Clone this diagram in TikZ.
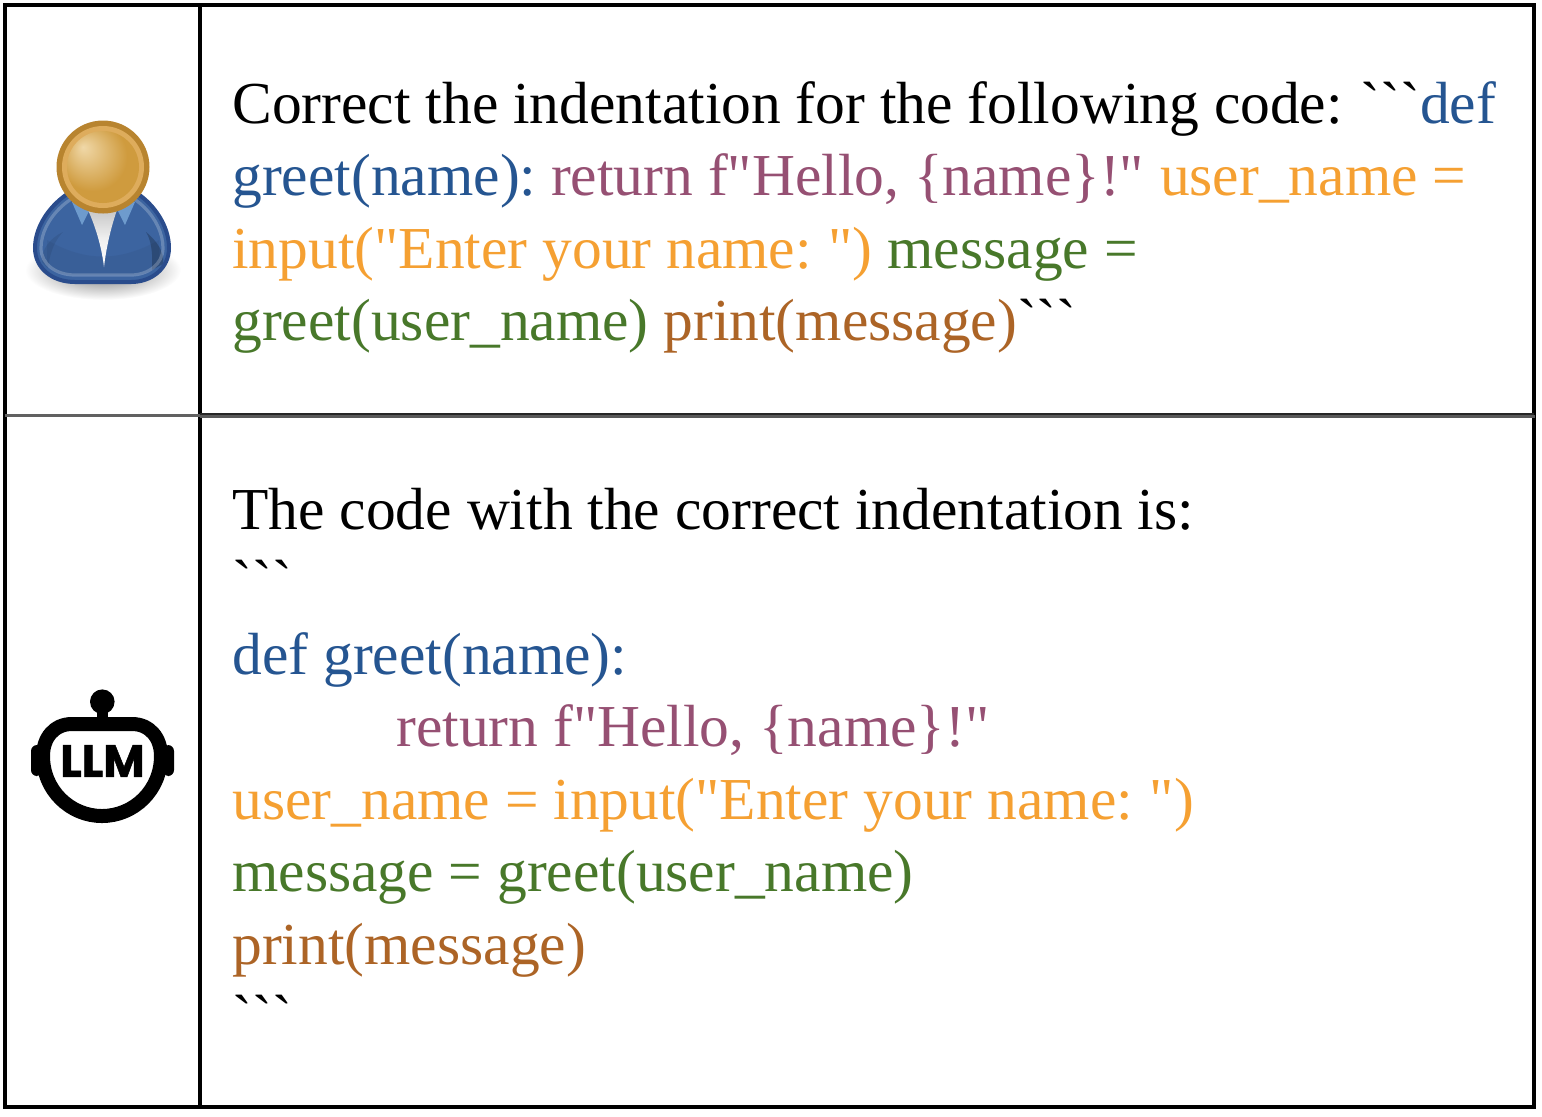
\documentclass[tikz,border=0pt]{standalone}
\usepackage{fontspec}
\usepackage{xcolor}
\newfontfamily\chatfont{Liberation Serif}
\newfontfamily\badgefont[BoldFeatures={FakeBold=1.2}]{Poppins}
\definecolor{defblue}{RGB}{37,85,145}
\definecolor{returnpurple}{RGB}{150,80,115}
\definecolor{inputorange}{RGB}{245,160,50}
\definecolor{greetgreen}{RGB}{72,120,42}
\definecolor{printbrown}{RGB}{172,100,38}
\definecolor{headdark}{RGB}{184,132,47}
\definecolor{headring}{RGB}{222,172,92}
\definecolor{headmid}{RGB}{207,155,62}
\definecolor{headlight}{RGB}{240,216,168}
\definecolor{bodydark}{RGB}{42,76,140}
\definecolor{bodyfill}{RGB}{60,100,160}
\definecolor{bodylow}{RGB}{54,88,142}
\definecolor{collarblue}{RGB}{110,155,205}
\pgfdeclareradialshading{headglow}{\pgfpoint{-14bp}{14bp}}{color(0bp)=(headlight); color(24bp)=(headmid); color(50bp)=(headmid)}
\tikzset{
    chatline/.style={anchor=base west, inner sep=0pt, font=\chatfont\fontsize{29.75}{36}\selectfont},
    gridline/.style={line width=1.6pt, black},
}

\begin{document}
\begin{tikzpicture}[x=0.5pt, y=-0.5pt]
    \useasboundingbox (0,0) rectangle (1542,1116);
    % Table
    \draw[gridline] (5,5) rectangle (1534,1107);
    \draw[gridline] (200,5) -- (200,1107);
    \draw[line width=1.65pt, black!62] (5,415.7) -- (200,415.7);
    \draw[line width=1.75pt, black!65] (200,416.5) -- (1535,416.5);
    \draw[line width=1pt, black!85] (200,414) -- (1534,414);

    % Prompt
    \node[chatline] (prompt1) at (232,123) {Correct the indentation for the following code: \kern-1pt```\textcolor{defblue}{def}};
    \node[chatline] (prompt2) at (232,195.5) {\textcolor{defblue}{greet(name):} \kern-2.5pt\textcolor{returnpurple}{return f"Hello, \{name\}!"} \kern0.5pt\textcolor{inputorange}{user\_name =}};
    \node[chatline] (prompt3) at (232,268) {\textcolor{inputorange}{input("Enter your name: \kern-1.5pt")} \textcolor{greetgreen}{message =}};
    \node[chatline] (prompt4) at (232,340.5) {\textcolor{greetgreen}{greet(user\_name)} \textcolor{printbrown}{print(message)}```};

    % Reply
    \node[chatline] (reply1) at (232,529) {The code with the correct indentation is:};
    \node[chatline] (reply2) at (232,601.5) {```};
    \node[chatline, defblue] (reply3) at (232,674) {def greet(name):};
    \node[chatline, returnpurple] (reply4) at (396,746.5) {return f"Hello, \{name\}!"};
    \node[chatline, inputorange] (reply5) at (232,819) {user\_name = input("Enter your name: \kern-1.5pt")};
    \node[chatline, greetgreen] (reply6) at (232,891.5) {message = greet(user\_name)};
    \node[chatline, printbrown] (reply7) at (232,964) {print(message)};
    \node[chatline] (reply8) at (232,1036.5) {```};

    % User icon
    \shade[inner color=black!55, outer color=white] (103,270) ellipse (78 and 30);
    \fill[bodyfill] (103,182) .. controls (70,182) and (35,215) .. (35,248) .. controls (35,268) and (52,282) .. (75,282) -- (131,282) .. controls (152,282) and (169,268) .. (169,248) .. controls (169,215) and (136,182) .. (103,182) -- cycle;
    \fill[bodylow, opacity=0.4] (47,262) .. controls (50,272) and (62,275) .. (75,275) -- (131,275) .. controls (142,275) and (155,272) .. (159,262) -- (159,240) .. controls (120,262) and (85,262) .. (47,240) -- cycle;
    \fill[black, opacity=0.22] (152,270) .. controls (153,252) and (151,240) .. (146,232) .. controls (156,240) and (165,252) .. (163,264) -- cycle;
    \fill[black, opacity=0.08] (48,268) .. controls (50,252) and (55,240) .. (63,232) .. controls (50,238) and (41,250) .. (42,262) -- cycle;
    \draw[bodydark, line width=2pt] (103,182) .. controls (70,182) and (35,215) .. (35,248) .. controls (35,268) and (52,282) .. (75,282) -- (131,282) .. controls (152,282) and (169,268) .. (169,248) .. controls (169,215) and (136,182) .. (103,182) -- cycle;
    \draw[white, opacity=0.22, line width=1.6pt] (103,189) .. controls (72,189) and (41,219) .. (41,248) .. controls (41,264) and (56,275) .. (75,275) -- (131,275) .. controls (148,275) and (163,264) .. (163,248) .. controls (163,219) and (134,189) .. (103,189) -- cycle;
    \fill[collarblue] (72,202) -- (82,225) -- (89,211) -- (104,200) -- (118,211) -- (125,225) -- (135,202) -- (104,192) -- cycle;
    \shade[top color=black!22, bottom color=white, middle color=black!6] (88,210) -- (117,210) .. controls (110,230) and (106,250) .. (104,267) .. controls (102,250) and (97,230) .. (88,210) -- cycle;
    \fill[headdark] (103,167) circle (46.5);
    \fill[headring] (103,167) circle (41);
    \shade[shading=headglow] (103,167) circle (36);

    % LLM icon
    \fill[black] (102.3,701.7) circle (12.3);
    \fill[black] (96.5,705) rectangle (108,720);
    \fill[black, rounded corners=3pt] (31,745) rectangle (42,776);
    \fill[black, rounded corners=3pt] (163,745) rectangle (174,776);
    \draw[black, line width=7pt] (72,724) -- (132,724) .. controls (150,724) and (161,738) .. (161,756) .. controls (161,790) and (134,816) .. (102,816) .. controls (70,816) and (43,790) .. (43,756) .. controls (43,738) and (54,724) .. (72,724) -- cycle;
    \node[inner sep=0pt, font=\badgefont\bfseries\fontsize{22.5}{22.5}\selectfont] (llm) at (102.5,761) {LLM};
\end{tikzpicture}
\end{document}
